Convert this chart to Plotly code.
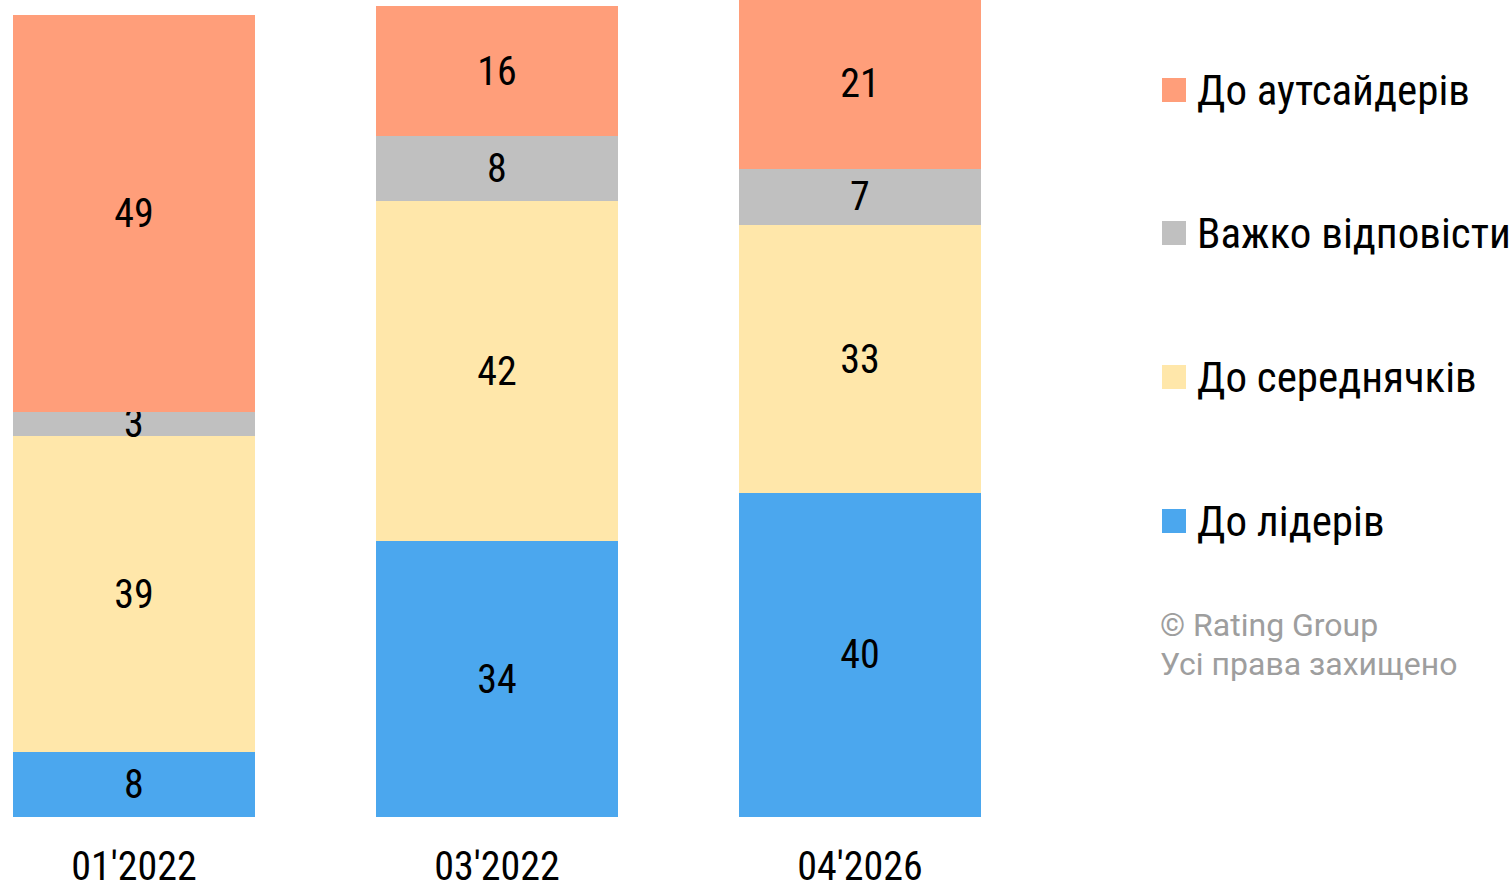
import plotly.graph_objects as go

categories = ["01'2022", "03'2022", "04'2026"]
series_names = ["До лідерів", "До середнячків", "Важко відповісти", "До аутсайдерів"]
leaders = [8, 34, 40]
middle = [39, 42, 33]
hard = [3, 8, 7]
outsiders = [49, 16, 21]
colors = ["#4BA7EE", "#FFE7AA", "#C0C0C0", "#FF9E7A"]
copyright_lines = ["© Rating Group", "Усі права захищено"]

COND = "Roboto Condensed, Liberation Sans Narrow, DejaVu Sans Condensed, Roboto, sans-serif"

W, H = 1512, 885
PL, PR, PB = 0, 512, 68
PW = W - PL - PR
PH = H - PB

fig = go.Figure()
for name, vals, col in zip(series_names, [leaders, middle, hard, outsiders], colors):
    fig.add_trace(go.Bar(
        x=categories, y=vals, name=name, marker=dict(color=col, line=dict(width=0)),
        text=[str(v) for v in vals], textposition="inside", insidetextanchor="middle",
        textangle=0,
        textfont=dict(family=COND, size=40, color="#000000"),
        showlegend=False, hoverinfo="skip",
    ))

# manual legend (top item = last series)
legend_y = [90, 233, 377, 521]  # pixel centers
shapes = []
annotations = []
for i, (name, col) in enumerate(zip(series_names[::-1], colors[::-1])):
    yc = 1 - legend_y[i] / PH
    shapes.append(dict(type="rect", xref="paper", yref="paper",
                       x0=1162 / PW, x1=1186 / PW,
                       y0=yc - 12 / PH, y1=yc + 12 / PH,
                       fillcolor=col, line=dict(width=0)))
    annotations.append(dict(xref="paper", yref="paper", x=1195 / PW, y=yc,
                            xanchor="left", yanchor="middle", showarrow=False,
                            text=name, font=dict(family=COND, size=43, color="#000000")))

for line, ypx in zip(copyright_lines, [625, 664]):
    annotations.append(dict(xref="paper", yref="paper", x=1158 / PW, y=1 - ypx / PH,
                            xanchor="left", yanchor="middle", showarrow=False, align="left",
                            text=line,
                            font=dict(family="Roboto, sans-serif", size=32, color="#9E9E9E")))

fig.update_layout(
    width=W, height=H,
    barmode="stack", bargap=0.333,
    margin=dict(l=PL, r=PR, t=0, b=PB, autoexpand=False),
    plot_bgcolor="white", paper_bgcolor="white",
    xaxis=dict(type="category", range=[-0.369, 2.386], showgrid=False, showline=False,
               zeroline=False, ticks="", automargin=False, ticklabelstandoff=22,
               tickfont=dict(family=COND, size=40, color="#000000")),
    yaxis=dict(range=[0, 100.8], visible=False, showgrid=False, zeroline=False),
    uniformtext=dict(minsize=40, mode="show"),
    shapes=shapes, annotations=annotations,
)

fig.write_html("out.html", config={"displayModeBar": False},
               post_script="document.body.style.margin='0';")
